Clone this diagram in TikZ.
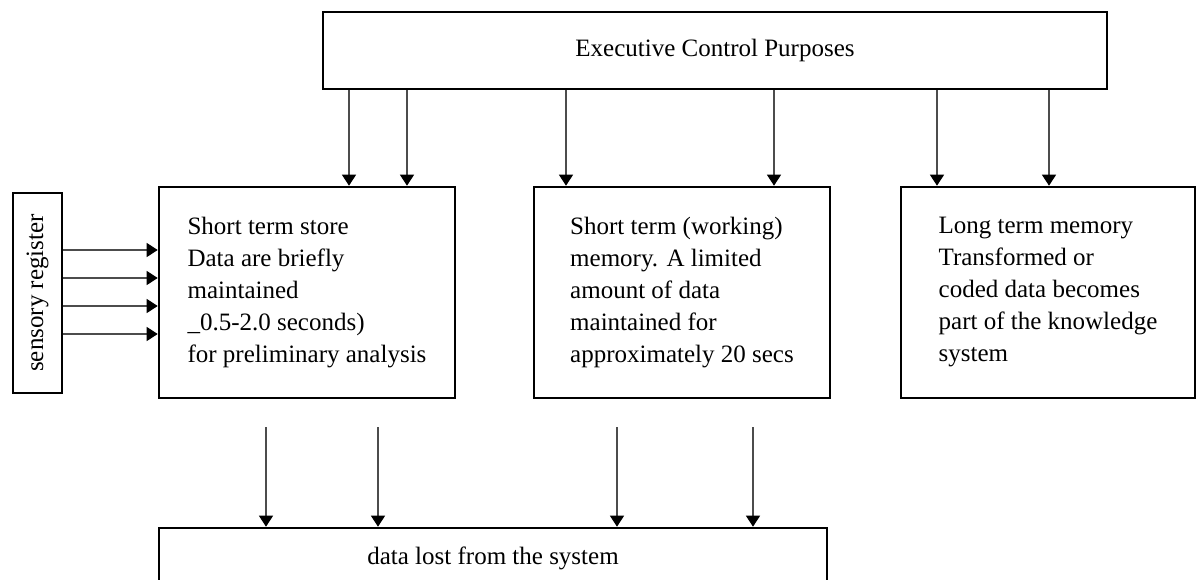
\documentclass[tikz,border=0pt]{standalone}
\usepackage{fontspec}
\setmainfont{Liberation Serif}
\usetikzlibrary{arrows.meta}

\begin{document}
\begin{tikzpicture}[x=1pt,y=-1pt,
  memo/.style={draw,line width=2.6pt,align=left,font=\fontsize{25}{32}\selectfont},
  flow/.style={-{Triangle[length=11pt,width=14pt,color=black]},line width=1.3pt,black!70}]
  \clip (0,0) rectangle (1199,580);
  % executive control on top, three stores in a row, loss box below
  \node[memo,minimum width=784pt,minimum height=77pt] (exec) at (715,50.5) {Executive Control Purposes};
  \node[memo,rotate=90,minimum width=200pt,minimum height=49pt] (sens) at (37.5,293) {sensory register};
  \node[memo,minimum width=296pt,minimum height=211pt] (sts) at (307,292.5)
    {Short term store\\Data are briefly\\maintained\\\_0.5-2.0 seconds)\\for preliminary analysis};
  \node[memo,minimum width=296pt,minimum height=211pt] (stm) at (682,292.5)
    {Short term (working)\\memory. A limited\\amount of data\\maintained for\\approximately 20 secs};
  \node[memo,minimum width=294pt,minimum height=211pt] (ltm) at (1048,292.5)
    {Long term memory\\Transformed or\\coded data becomes\\part of the knowledge\\system};
  \node[memo,minimum width=668pt,minimum height=60pt] (lost) at (493,558) {data lost from the system};
  % control arrows down to the stores
  \foreach \x in {349,407} \draw[flow] (\x,0 |- exec.south) -- (\x,0 |- sts.north);
  \foreach \x in {566,774} \draw[flow] (\x,0 |- exec.south) -- (\x,0 |- stm.north);
  \foreach \x in {937,1049} \draw[flow] (\x,0 |- exec.south) -- (\x,0 |- ltm.north);
  % sensory input
  \foreach \y in {250,278,306,334} \draw[flow] (sens.south |- 0,\y) -- (sts.west |- 0,\y);
  % decay: loose tails above the loss box
  \foreach \x in {266,378,617,753} {
    \coordinate (tail) at (\x,427);
    \draw[flow] (tail) -- (tail |- lost.north);
  }
\end{tikzpicture}
\end{document}
